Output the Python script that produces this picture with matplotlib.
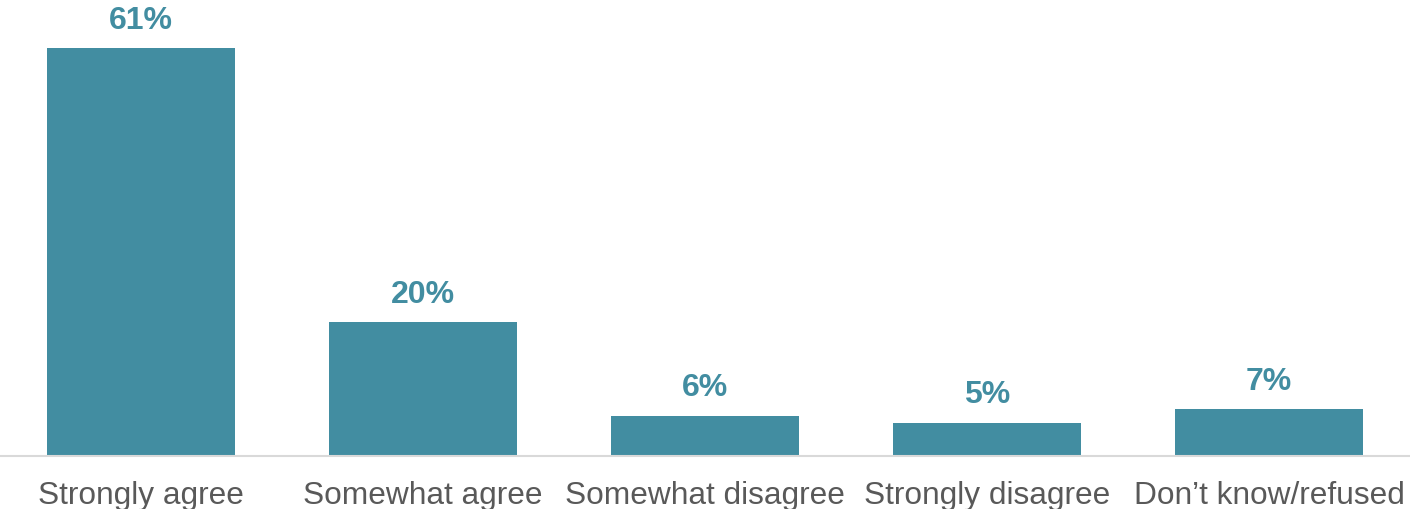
import matplotlib.pyplot as plt

# Survey responses
categories = ['Strongly agree', 'Somewhat agree', 'Somewhat disagree', 'Strongly disagree', 'Don\u2019t know/refused']
percentages = [61, 20, 6, 5, 7]

bar_color = '#428DA1'
text_color = '#595959'

plt.rcParams['font.family'] = ['Liberation Sans', 'DejaVu Sans']

fig = plt.figure(figsize=(14.1, 5.09), dpi=100)
ax = fig.add_axes([0, 0.104, 1, 0.896])

x = range(len(categories))
bars = ax.bar(x, percentages, width=0.667, color=bar_color)

# value labels above bars
for rect, val in zip(bars, percentages):
    ax.annotate(f'{val}%', (rect.get_x() + rect.get_width() / 2, rect.get_height()),
                xytext=(0, 9), textcoords='offset points',
                ha='center', va='bottom', fontsize=23, fontweight='bold', color=bar_color)

ax.set_xlim(-0.5, 4.5)
ax.set_ylim(0, 68.2)
ax.set_xticks(list(x))
ax.set_xticklabels(categories, fontsize=22.8, color=text_color)
ax.tick_params(axis='x', length=0, pad=18)
ax.set_yticks([])

for side in ['top', 'right', 'left']:
    ax.spines[side].set_visible(False)
ax.spines['bottom'].set_color('#D9D9D9')
ax.spines['bottom'].set_linewidth(1.5)

fig.savefig('out.png', dpi=100)
